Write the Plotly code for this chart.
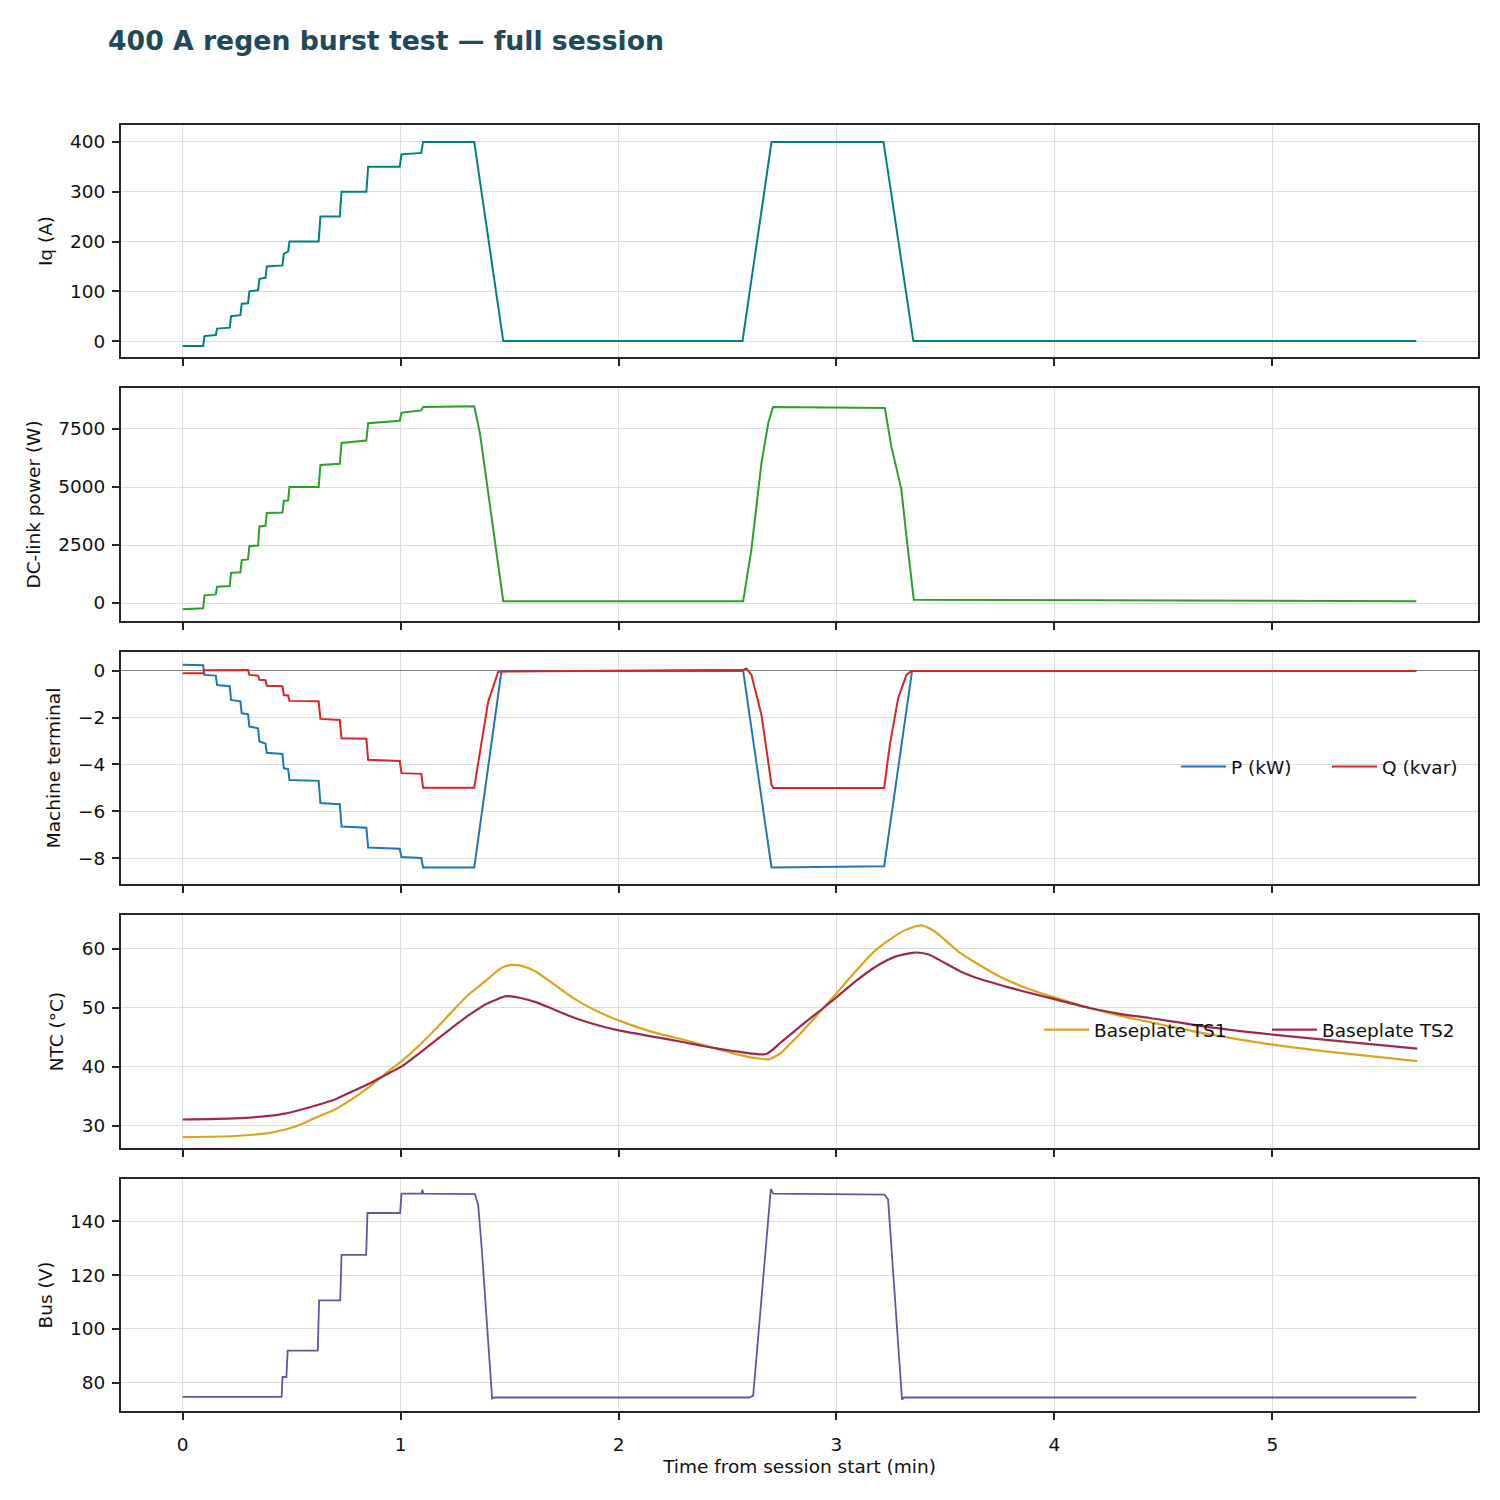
import plotly.graph_objects as go
from plotly.subplots import make_subplots

# ---------------- data ----------------
T_IQ = [0, 0.094, 0.100, 0.152, 0.158, 0.216, 0.222, 0.265, 0.271, 0.300, 0.306, 0.346, 0.352,
        0.380, 0.386, 0.458, 0.464, 0.484, 0.490, 0.624, 0.632, 0.721, 0.729, 0.843, 0.851,
        0.996, 1.004, 1.095, 1.103, 1.338, 1.471, 2.569, 2.702, 3.216, 3.353, 5.661]
IQ = [-10, -10, 10, 12, 25, 27, 50, 52, 75, 76, 100, 102, 125, 127, 150, 152, 175, 180, 200, 200,
      250, 250, 300, 300, 350, 350, 375, 378, 400, 400, 0, 0, 400, 400, 0, 0]

T_PDC = [0, 0.094, 0.100, 0.152, 0.158, 0.216, 0.222, 0.265, 0.271, 0.300, 0.306, 0.346, 0.352,
         0.380, 0.386, 0.458, 0.464, 0.484, 0.490, 0.624, 0.632, 0.721, 0.729, 0.843, 0.851,
         0.996, 1.004, 1.095, 1.103, 1.338, 1.364, 1.392, 1.471, 2.572, 2.610, 2.656, 2.687,
         2.709, 3.222, 3.252, 3.298, 3.321, 3.355, 5.661]
PDC = [-270, -230, 330, 370, 700, 730, 1300, 1320, 1850, 1880, 2450, 2480, 3300, 3330, 3880, 3900,
       4400, 4420, 5000, 5000, 5950, 6000, 6900, 7000, 7750, 7850, 8200, 8300, 8450, 8480, 7320,
       5460, 80, 80, 2320, 6040, 7750, 8450, 8400, 6750, 4890, 2890, 140, 80]

T_P = [0, 0.094, 0.100, 0.152, 0.158, 0.216, 0.222, 0.265, 0.271, 0.300, 0.306, 0.346, 0.352,
       0.380, 0.386, 0.458, 0.464, 0.484, 0.490, 0.624, 0.632, 0.721, 0.729, 0.843, 0.851,
       0.996, 1.004, 1.095, 1.103, 1.338, 1.463, 2.572, 2.702, 3.219, 3.347, 5.661]
P_KW = [0.27, 0.24, -0.17, -0.2, -0.6, -0.65, -1.24, -1.3, -1.81, -1.85, -2.38, -2.45, -3.02, -3.1,
        -3.5, -3.55, -4.16, -4.2, -4.66, -4.7, -5.65, -5.7, -6.65, -6.7, -7.55, -7.6, -7.96,
        -8.0, -8.4, -8.4, 0.0, 0.0, -8.4, -8.35, 0.0, 0.0]

T_Q = [0, 0.094, 0.100, 0.300, 0.306, 0.346, 0.352, 0.380, 0.386, 0.458, 0.464, 0.484, 0.490,
       0.624, 0.632, 0.721, 0.729, 0.843, 0.851, 0.996, 1.004, 1.095, 1.103, 1.338, 1.372,
       1.402, 1.448, 2.575, 2.587, 2.610, 2.656, 2.702, 2.710, 3.219, 3.245, 3.283, 3.321,
       3.344, 5.661]
Q_KVAR = [-0.1, -0.1, 0.03, 0.04, -0.17, -0.2, -0.38, -0.4, -0.63, -0.65, -1.03, -1.05, -1.28,
          -1.3, -2.05, -2.1, -2.88, -2.9, -3.8, -3.85, -4.37, -4.4, -4.99, -4.99, -3.02, -1.31,
          -0.03, 0.05, 0.1, -0.17, -1.88, -4.87, -5.0, -5.0, -3.16, -1.17, -0.17, 0.0, 0.0]

T_TS1 = [0, 0.24, 0.393, 0.47, 0.546, 0.622, 0.699, 0.775, 0.852, 0.928, 1.005, 1.081, 1.157,
         1.234, 1.31, 1.387, 1.463, 1.509, 1.56, 1.62, 1.693, 1.80, 1.922, 2.0, 2.15, 2.30,
         2.381, 2.55, 2.63, 2.69, 2.746, 2.792, 2.838, 2.94, 3.0, 3.09, 3.18, 3.30, 3.386,
         3.446, 3.477, 3.569, 3.66, 3.751, 3.87, 4.0, 4.162, 4.30, 4.437, 4.70, 5.0, 5.33,
         5.665]
TS1 = [28.1, 28.3, 28.8, 29.4, 30.3, 31.6, 32.8, 34.5, 36.5, 38.8, 41.0, 43.5, 46.3,
       49.3, 52.2, 54.5, 56.8, 57.3, 57.1, 56.2, 54.3, 51.5, 49.1, 47.9, 46.0, 44.6,
       43.8, 42.1, 41.5, 41.3, 42.4, 44.1, 45.8, 50.0, 52.5, 56.3, 59.8, 62.9, 64.0,
       63.1, 62.2, 59.3, 57.2, 55.3, 53.4, 51.8, 50.0, 48.7, 47.6, 45.6, 43.8, 42.3,
       41.0]

T_TS2 = [0, 0.24, 0.393, 0.47, 0.546, 0.622, 0.699, 0.775, 0.852, 0.928, 1.005, 1.081, 1.157,
         1.234, 1.31, 1.40, 1.486, 1.55, 1.62, 1.693, 1.80, 1.922, 2.0, 2.15, 2.30, 2.381,
         2.55, 2.678, 2.746, 2.838, 2.94, 3.0, 3.09, 3.18, 3.27, 3.358, 3.42, 3.569, 3.66,
         3.751, 3.87, 4.0, 4.162, 4.30, 4.437, 4.70, 5.0, 5.33, 5.665]
TS2 = [31.1, 31.3, 31.7, 32.1, 32.8, 33.6, 34.5, 35.8, 37.1, 38.6, 40.1, 42.2, 44.4,
       46.6, 48.7, 50.8, 52.0, 51.7, 51.0, 49.9, 48.3, 46.9, 46.2, 45.2, 44.2, 43.6,
       42.6, 42.2, 44.2, 47.0, 50.0, 51.8, 54.6, 57.0, 58.7, 59.4, 59.1, 56.2, 54.9,
       53.9, 52.7, 51.5, 50.0, 49.0, 48.3, 46.8, 45.5, 44.3, 43.1]

T_BUS = [0, 0.454, 0.458, 0.476, 0.482, 0.620, 0.626, 0.723, 0.729, 0.842, 0.848, 0.998, 1.004,
         1.096, 1.100, 1.104, 1.341, 1.356, 1.372, 1.420, 1.430, 2.600, 2.618, 2.699, 2.710,
         3.221, 3.237, 3.301, 3.310, 5.661]
BUS = [74.8, 74.8, 82.2, 82.2, 92.0, 92.0, 110.6, 110.6, 127.5, 127.5, 143.0, 143.0, 150.2,
       150.2, 151.6, 150.2, 150.0, 146.0, 130.3, 74.2, 74.6, 74.6, 75.3, 151.9, 150.2, 149.8,
       148.0, 73.8, 74.6, 74.6]

X_TICKS = [0, 1, 2, 3, 4, 5]
Y1_TICKS = [0, 100, 200, 300, 400]
Y2_TICKS = [0, 2500, 5000, 7500]
Y3_TICKS = [-8, -6, -4, -2, 0]
Y4_TICKS = [30, 40, 50, 60]
Y5_TICKS = [80, 100, 120, 140]

TITLE = "400 A regen burst test \u2014 full session"

# ---------------- figure ----------------
FONT = "DejaVu Sans"
FS = 18.5
TXT = "#111111"
fig = make_subplots(rows=5, cols=1, shared_xaxes=True)

fig.add_trace(go.Scatter(x=T_IQ, y=IQ, mode="lines", line=dict(color="#008080", width=2.0),
                         showlegend=False), row=1, col=1)
fig.add_trace(go.Scatter(x=T_PDC, y=PDC, mode="lines", line=dict(color="#2ca02c", width=2.0),
                         showlegend=False), row=2, col=1)
fig.add_trace(go.Scatter(x=T_P, y=P_KW, mode="lines", name="P (kW)",
                         line=dict(color="#1f77b4", width=2.0), legend="legend"), row=3, col=1)
fig.add_trace(go.Scatter(x=T_Q, y=Q_KVAR, mode="lines", name="Q (kvar)",
                         line=dict(color="#d62728", width=2.0), legend="legend"), row=3, col=1)
fig.add_trace(go.Scatter(x=T_TS1, y=TS1, mode="lines", name="Baseplate TS1",
                         line=dict(color="#daa520", width=2.2, shape="spline", smoothing=0.6),
                         legend="legend2"), row=4, col=1)
fig.add_trace(go.Scatter(x=T_TS2, y=TS2, mode="lines", name="Baseplate TS2",
                         line=dict(color="#9e2a4b", width=2.2, shape="spline", smoothing=0.6),
                         legend="legend2"), row=4, col=1)
fig.add_trace(go.Scatter(x=T_BUS, y=BUS, mode="lines", line=dict(color="#6a51a3", width=1.8),
                         showlegend=False), row=5, col=1)

L, R, T, B = 121, 22, 125, 89
W = 1500 - L - R
H = 1500 - T - B
def dom(top_px, bot_px):
    return [(1500 - B - bot_px) / H, (1500 - B - top_px) / H]

domains = [dom(125, 357), dom(388, 621), dom(652, 884), dom(915, 1148), dom(1179, 1411)]
yranges = [[-32, 434], [-776, 9267], [-9.11, 0.81], [26.27, 65.76], [69.6, 155.6]]
yticks = [Y1_TICKS, Y2_TICKS, Y3_TICKS, Y4_TICKS, Y5_TICKS]
ytitles = ["Iq (A)", "DC-link power (W)", "Machine terminal", "NTC (\u00b0C)", "Bus (V)"]

axis_common = dict(showline=True, linecolor="#262626", linewidth=2, mirror=True,
                   ticks="outside", ticklen=7, tickwidth=1.6, tickcolor="#262626",
                   showgrid=True, gridcolor="#dddddd", gridwidth=1,
                   tickfont=dict(family=FONT, size=FS, color=TXT))

for i in range(5):
    n = i + 1
    fig.update_yaxes(row=n, col=1, domain=domains[i], range=yranges[i], tickvals=yticks[i],
                     zeroline=(n == 3), zerolinecolor="#808080", zerolinewidth=1.4,
                     ticklabelstandoff=3,
                     title=dict(text=ytitles[i], standoff=13,
                                font=dict(family=FONT, size=FS, color=TXT)),
                     **axis_common)
    fig.update_xaxes(row=n, col=1, range=[-0.283, 5.944], tickvals=X_TICKS,
                     showticklabels=(n == 5), zeroline=False, ticklabelstandoff=9,
                     **axis_common)

fig.update_xaxes(row=5, col=1, title=dict(text="Time from session start (min)", standoff=6,
                                          font=dict(family=FONT, size=FS, color=TXT)))

fig.update_layout(
    width=1500, height=1500,
    margin=dict(l=L, r=R, t=T, b=B, autoexpand=False),
    paper_bgcolor="white", plot_bgcolor="white",
    font=dict(family=FONT, size=FS, color=TXT),
    title=dict(text="<b>" + TITLE + "</b>", x=108 / 1500, xanchor="left", y=1 - 41 / 1500,
               yanchor="middle", xref="container", yref="container",
               font=dict(family=FONT, size=26.7, color="#1f4a5c")),
    legend=dict(orientation="h", x=(1176 - L) / W, xanchor="left",
                y=(1411 - 767) / H, yanchor="middle", bgcolor="rgba(0,0,0,0)",
                borderwidth=0, itemwidth=45, entrywidth=91,
                font=dict(family=FONT, size=FS, color=TXT)),
    legend2=dict(orientation="h", x=(1039 - L) / W, xanchor="left",
                 y=(1411 - 1030) / H, yanchor="middle", bgcolor="rgba(0,0,0,0)",
                 borderwidth=0, itemwidth=45, entrywidth=168,
                 font=dict(family=FONT, size=FS, color=TXT)),
)

fig.write_html("out.html")
